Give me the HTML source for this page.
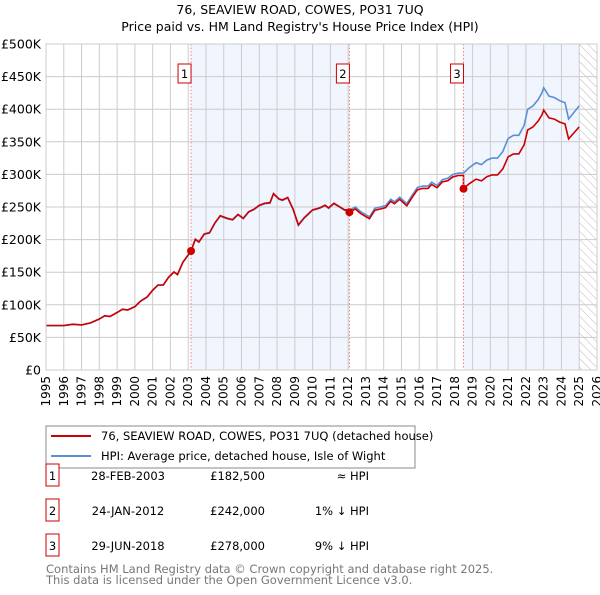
<!DOCTYPE html>
<html><head><meta charset="utf-8"><style>
body{margin:0;background:#fff;font-family:"Liberation Sans","DejaVu Sans",sans-serif;}
svg text{font-family:"DejaVu Sans","Liberation Sans",sans-serif;}
</style></head><body>
<svg id="c" width="600" height="590" xmlns="http://www.w3.org/2000/svg">
<defs><pattern id="hatch" width="6" height="6" patternUnits="userSpaceOnUse" patternTransform="rotate(-45)"><line x1="0" y1="0" x2="0" y2="6" stroke="#bbb" stroke-width="1"/></pattern></defs>
<text x="300" y="14" text-anchor="middle" font-size="12.5">76, SEAVIEW ROAD, COWES, PO31 7UQ</text>
<text x="300" y="31" text-anchor="middle" font-size="12.5">Price paid vs. HM Land Registry's House Price Index (HPI)</text>
<g id="plot"></g>
<g>
<rect x="46" y="426" width="369" height="42" fill="#fff" stroke="#888"/>
<line x1="51" y1="436" x2="91" y2="436" stroke="#cc0000" stroke-width="2"/>
<text x="101" y="440" font-size="11.5">76, SEAVIEW ROAD, COWES, PO31 7UQ (detached house)</text>
<line x1="51" y1="456" x2="91" y2="456" stroke="#5b8fd4" stroke-width="2"/>
<text x="101" y="460" font-size="11.5">HPI: Average price, detached house, Isle of Wight</text>
</g>
<g id="tbl" font-size="11.5"></g>
<text x="46" y="573" font-size="11.5" fill="#777">Contains HM Land Registry data © Crown copyright and database right 2025.</text>
<text x="46" y="584" font-size="11.5" fill="#777">This data is licensed under the Open Government Licence v3.0.</text>
</svg>
<script>
const hpiYears=[1995,1996,1996.5,1997,1997.5,1998,1998.3,1998.6,1999,1999.3,1999.6,2000,2000.3,2000.7,2001,2001.3,2001.6,2001.9,2002.2,2002.4,2002.7,2003.16,2003.4,2003.6,2003.9,2004.2,2004.5,2004.8,2005.2,2005.5,2005.8,2006.1,2006.4,2006.7,2007,2007.3,2007.6,2007.8,2008.1,2008.3,2008.6,2008.9,2009.2,2009.5,2009.8,2010,2010.4,2010.7,2010.9,2011.2,2011.5,2011.8,2012.07,2012.4,2012.7,2013,2013.2,2013.5,2013.8,2014.1,2014.4,2014.6,2014.9,2015.1,2015.3,2015.6,2015.9,2016.2,2016.5,2016.7,2017,2017.3,2017.6,2017.9,2018.2,2018.49,2018.8,2019.2,2019.5,2019.8,2020.1,2020.4,2020.7,2021,2021.3,2021.6,2021.9,2022.1,2022.4,2022.7,2022.9,2023,2023.3,2023.6,2023.9,2024.2,2024.4,2024.7,2025];
const hpiValues=[68,68,70,69,72,78,83,82,88,93,92,97,105,112,122,130,130,142,150,146,165,182,200,196,208,210,225,236,232,230,238,232,242,246,252,255,256,270,262,260,264,246,222,232,240,245,248,252,248,255,250,245,245,250,243,238,235,248,250,252,262,258,265,260,255,268,280,282,282,288,283,292,294,300,302,302,310,318,315,322,325,325,335,355,360,360,375,400,405,415,425,433,420,418,413,410,385,395,405];
const saleYears=[2003.16,2012.07,2018.49];
const salePrices=[182.5,242,278];
const saleLabels=["1","2","3"];
const saleDates=["28-FEB-2003","24-JAN-2012","29-JUN-2018"];
const salePriceText=["£182,500","£242,000","£278,000"];
const saleRel=["≈ HPI","1% ↓ HPI","9% ↓ HPI"];
const yTicks=[0,50,100,150,200,250,300,350,400,450,500];
const yTickLabels=["£0","£50K","£100K","£150K","£200K","£250K","£300K","£350K","£400K","£450K","£500K"];
const xTicks=[];for(let y=1995;y<=2026;y++)xTicks.push(y);

const X0=46,X1=597,Y0=370,Y1=44;
const xs=t=>X0+(t-1995)/(2026-1995)*(X1-X0);
const ys=v=>Y0-v/500*(Y0-Y1);
const NS="http://www.w3.org/2000/svg";
const plot=document.getElementById('plot');
function mk(tag,attrs,parent){const e=document.createElementNS(NS,tag);for(const k in attrs)e.setAttribute(k,attrs[k]);(parent||plot).appendChild(e);return e;}
function hpiAt(t){for(let i=1;i<hpiYears.length;i++){if(t<=hpiYears[i]){const a=hpiYears[i-1],b=hpiYears[i];return hpiValues[i-1]+(hpiValues[i]-hpiValues[i-1])*(t-a)/(b-a);}}return hpiValues[hpiValues.length-1];}

let sh=mk('rect',{x:xs(saleYears[0]),y:Y1,width:xs(saleYears[1])-xs(saleYears[0]),height:Y0-Y1,fill:'#f1f5fd'});


const lastT=hpiYears[hpiYears.length-1];
sh=mk('rect',{x:xs(saleYears[2]),y:Y1,width:xs(lastT)-xs(saleYears[2]),height:Y0-Y1,fill:'#f1f5fd'});


let ht=mk('rect',{x:xs(lastT),y:Y1,width:X1-xs(lastT),height:Y0-Y1,fill:'url(#hatch)'});


xTicks.forEach(t=>{const l=mk('line',{x1:xs(t),x2:xs(t),y1:Y1,y2:Y0,stroke:'#ccc','stroke-width':1});


const tx=mk('text',{x:0,y:0,'font-size':12,transform:`translate(${xs(t)+4},${Y0+6}) rotate(-90)`,'text-anchor':'end'});tx.textContent=t;

});
yTicks.forEach((v,i)=>{const l=mk('line',{x1:X0,x2:X1,y1:ys(v),y2:ys(v),stroke:'#ccc','stroke-width':1});


const tx=mk('text',{x:X0-5,y:ys(v)+4.5,'font-size':12.5,'text-anchor':'end'});tx.textContent=yTickLabels[i];

});
let d=hpiYears.map((t,i)=>(i?'L':'M')+xs(t).toFixed(1)+','+ys(hpiValues[i]).toFixed(1)).join('');
let hl=mk('path',{d,fill:'none',stroke:'#5b8fd4','stroke-width':1.6});


let pts=[];
for(let s=0;s<saleYears.length;s++){const start=saleYears[s],end=s+1<saleYears.length?saleYears[s+1]:lastT;const f=salePrices[s]/hpiAt(start);
 if(s===0){hpiYears.filter(t=>t<start).forEach(t=>pts.push([t,hpiAt(t)*f]));}
 pts.push([start,salePrices[s]]);
 hpiYears.filter(t=>t>start&&t<end).forEach(t=>pts.push([t,hpiAt(t)*f]));
 pts.push([end,hpiAt(end)*f]);}
d=pts.map((p,i)=>(i?'L':'M')+xs(p[0]).toFixed(1)+','+ys(p[1]).toFixed(1)).join('');
let pl=mk('path',{d,fill:'none',stroke:'#cc0000','stroke-width':1.6});


saleYears.forEach((t,i)=>{const l=mk('line',{x1:xs(t),x2:xs(t),y1:Y1,y2:Y0,stroke:'#f08080','stroke-width':1,'stroke-dasharray':'1.5,2'});


const c=mk('circle',{cx:xs(t),cy:ys(salePrices[i]),r:4,fill:'#cc0000'});


const b=mk('rect',{x:xs(t)-13,y:64,width:13,height:19,fill:'#fff',stroke:'#cc0000'});


const tx=mk('text',{x:xs(t)-6.5,y:78,'font-size':11.5,'text-anchor':'middle'});tx.textContent=saleLabels[i];

});
mk('rect',{x:X0,y:Y1,width:X1-X0,height:Y0-Y1,fill:'none',stroke:'#ccc'});
const tbl=document.getElementById('tbl');
saleLabels.forEach((lab,i)=>{const y=480+i*35;
const b=mk('rect',{x:46,y:y-16,width:13,height:22,fill:'#fff',stroke:'#cc0000'},tbl);


const cols=[[52.5,lab,'middle'],[128,saleDates[i],'middle'],[265,salePriceText[i],'end'],[369,saleRel[i],'end']];
cols.forEach((c,j)=>{const tx=mk('text',{x:c[0],y:y,'text-anchor':c[2]},tbl);tx.textContent=c[1];

});});
</script>
</body></html>
